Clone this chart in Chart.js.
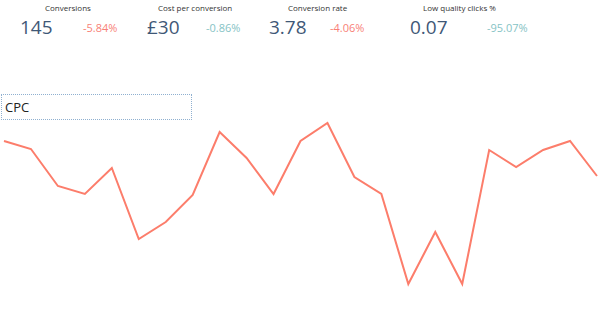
<!DOCTYPE html>
<html>
<head>
<meta charset="utf-8">
<script src="https://cdn.jsdelivr.net/npm/chart.js@4"></script>
<style>
    html, body { margin: 0; padding: 0; background: #fff; }
    body { width: 600px; height: 315px; position: relative; overflow: hidden; font-family: "Open Sans", sans-serif; }
    .lbl { position: absolute; top: 2px; font-size: 8px; color: #333; white-space: nowrap; }
    .big { position: absolute; top: 14px; font-size: 19px; color: #3f5877; white-space: nowrap; }
    .chg { position: absolute; top: 20px; font-size: 11px; white-space: nowrap; }
    .down { color: #f87f77; }
    .good { color: #86c3c5; }
    #title { position: absolute; left: 1px; top: 94px; width: 186px; height: 24px; border: 1px dotted #8fb0d0; font-size: 13px; color: #222; line-height: 24px; padding-left: 3px; }
    #wrap { position: absolute; left: 0; top: 110px; width: 600px; height: 190px; }
</style>
</head>
<body>
<div id="kpis"></div>
<div id="title">CPC</div>
<div id="wrap"><canvas id="cpcChart"></canvas></div>
<script>
// KPI header
const kpiLabels = ['Conversions', 'Cost per conversion', 'Conversion rate', 'Low quality clicks %'];
const kpiValues = ['145', '£30', '3.78', '0.07'];
const kpiChanges = ['-5.84%', '-0.86%', '-4.06%', '-95.07%'];
const kpiGood = [false, true, false, true];

// CPC series (one point per day)
const days = ['1', '2', '3', '4', '5', '6', '7', '8', '9', '10', '11', '12',
    '13', '14', '15', '16', '17', '18', '19', '20', '21', '22', '23'];
const cpcValues = [1.59, 1.51, 1.14, 1.06, 1.32, 0.61, 0.78, 1.05, 1.68, 1.42, 1.06, 1.59,
    1.77, 1.23, 1.06, 0.16, 0.68, 0.16, 1.50, 1.33, 1.50, 1.59, 1.24];

const kpiEl = document.getElementById('kpis');
const lblX = [45, 158, 288, 423];
const bigX = [20, 147, 269, 410];
const chgX = [83, 206, 330, 487];
kpiLabels.forEach((label, i) => {
    const l = document.createElement('div');
    l.className = 'lbl';
    l.style.left = lblX[i] + 'px';
    l.textContent = label;
    kpiEl.appendChild(l);

    const b = document.createElement('div');
    b.className = 'big';
    b.style.left = bigX[i] + 'px';
    b.textContent = kpiValues[i];
    kpiEl.appendChild(b);

    const c = document.createElement('div');
    c.className = 'chg ' + (kpiGood[i] ? 'good' : 'down');
    c.style.left = chgX[i] + 'px';
    c.textContent = kpiChanges[i];
    kpiEl.appendChild(c);
});

new Chart(document.getElementById('cpcChart'), {
    type: 'line',
    data: {
        labels: days,
        datasets: [{
            label: 'CPC',
            data: cpcValues,
            borderColor: '#fc7d6b',
            borderWidth: 2,
            pointRadius: 0,
            tension: 0,
            fill: false
        }]
    },
    options: {
        responsive: true,
        maintainAspectRatio: false,
        animation: false,
        layout: { padding: { left: 4, right: 3, top: 0, bottom: 0 } },
        plugins: { legend: { display: false }, tooltip: { enabled: false } },
        scales: {
            x: { display: false, offset: false },
            y: { display: false, min: 0, max: 1.9 }
        }
    }
});
</script>
</body>
</html>
